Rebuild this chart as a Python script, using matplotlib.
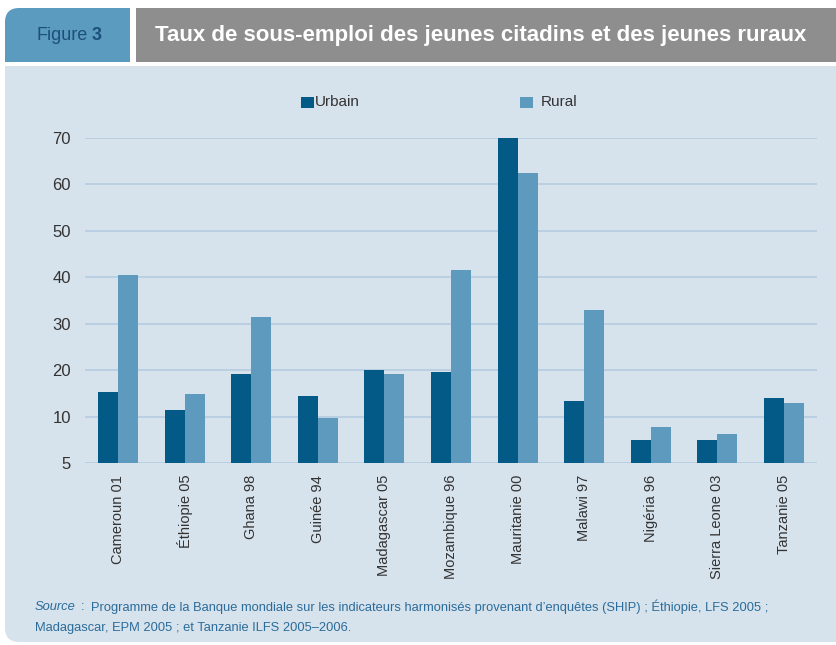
import numpy as np
import matplotlib
matplotlib.use("Agg")
import matplotlib.pyplot as plt
from matplotlib.patches import Rectangle, FancyBboxPatch

# data
pays = ["Cameroun 01", "Éthiopie 05", "Ghana 98", "Guinée 94", "Madagascar 05",
        "Mozambique 96", "Mauritanie 00", "Malawi 97", "Nigéria 96",
        "Sierra Leone 03", "Tanzanie 05"]
urbain = [15.3, 11.4, 19.1, 14.4, 20.0, 19.6, 70.0, 13.3, 4.9, 4.9, 14.0]
rural = [40.5, 14.8, 31.4, 9.6, 19.1, 41.5, 62.5, 32.9, 7.7, 6.2, 12.9]
yticks = [0, 10, 20, 30, 40, 50, 60, 70]
ytick_labels = ["5", "10", "20", "30", "40", "50", "60", "70"]

plt.rcParams["font.family"] = ["Liberation Sans", "DejaVu Sans"]

c_urb = "#035a87"
c_rur = "#5e9abd"
c_bg = "#d6e2ec"
c_grid = "#b7cee2"
c_txt = "#333333"

W, H = 836, 645
fig = plt.figure(figsize=(W / 100, H / 100), dpi=100)
fig.patch.set_facecolor("white")

def fx(px):
    return px / W

def fy(py):
    return 1 - py / H

def rect(x0, y0, x1, y1, color, rounded=False):
    # pixel coords from top-left
    if rounded:
        p = FancyBboxPatch((fx(x0), fy(y1)), fx(x1 - x0), (y1 - y0) / H,
                           boxstyle="round,pad=0,rounding_size=0.017",
                           transform=fig.transFigure, fc=color, ec="none",
                           mutation_aspect=W / H, zorder=0)
    else:
        p = Rectangle((fx(x0), fy(y1)), fx(x1 - x0), (y1 - y0) / H,
                      transform=fig.transFigure, fc=color, ec="none", zorder=0)
    fig.patches.append(p)

# header, "Figure 3" box rounded at top-left only
rect(5, 8, 130, 62, "#5b9bc0", rounded=True)
rect(5, 32, 130, 62, "#5b9bc0")
rect(60, 8, 130, 62, "#5b9bc0")
rect(136, 8, 836, 62, "#8e8e8e")
fig.text(fx(36), fy(36), "Figure", color="#1d4f7c", fontsize=13, va="center", ha="left")
fig.text(fx(92), fy(36), "3", color="#1d4f7c", fontsize=13, fontweight="bold",
         va="center", ha="left")
fig.text(fx(155), fy(36), "Taux de sous-emploi des jeunes citadins et des jeunes ruraux",
         color="white", fontsize=16, fontweight="bold", va="center", ha="left")

# panel, rounded at bottom-left only
rect(5, 66, 836, 642, c_bg, rounded=True)
rect(5, 66, 836, 400, c_bg)
rect(60, 66, 836, 642, c_bg)

ax = fig.add_axes([fx(85), fy(463), fx(817 - 85), (463 - 138) / H])
ax.set_zorder(2)
ax.set_facecolor("none")
x = np.arange(len(pays))
w = 0.3
ax.bar(x - w / 2, urbain, w, color=c_urb, zorder=3, label="Urbain")
ax.bar(x + w / 2, rural, w, color=c_rur, zorder=3, label="Rural")
ax.set_xlim(-0.5, len(pays) - 0.5)
ax.set_ylim(0, 70)
ax.set_yticks(yticks)
ax.set_yticklabels(ytick_labels)
ax.set_xticks(x)
ax.set_xticklabels(pays, rotation=90)
ax.tick_params(axis="both", length=0, colors=c_txt)
ax.tick_params(axis="y", pad=10, labelsize=12)
ax.tick_params(axis="x", pad=8.5, labelsize=10.5)
ax.grid(axis="y", color=c_grid, linewidth=1.3, zorder=0)
ax.set_axisbelow(True)
for s in ax.spines.values():
    s.set_visible(False)

# legend
rect(301, 97, 314, 108, c_urb)
fig.text(fx(315), fy(102), "Urbain", color=c_txt, fontsize=11, va="center", ha="left")
rect(520, 97, 533, 108, c_rur)
fig.text(fx(541), fy(102), "Rural", color=c_txt, fontsize=11, va="center", ha="left")

# source
c_src = "#2b6c9a"
fig.text(fx(35), fy(607), "Source", color=c_src, fontsize=9.3, style="italic",
         va="center", ha="left")
fig.text(fx(81), fy(607), ":", color=c_src, fontsize=9.3, va="center", ha="left")
fig.text(fx(91), fy(607),
         "Programme de la Banque mondiale sur les indicateurs harmonisés provenant d’enquêtes (SHIP) ; Éthiopie, LFS 2005 ;",
         color=c_src, fontsize=9.3, va="center", ha="left")
fig.text(fx(35), fy(628), "Madagascar, EPM 2005 ; et Tanzanie ILFS 2005–2006.",
         color=c_src, fontsize=9.3, va="center", ha="left")

fig.savefig("out.png", dpi=100, facecolor=fig.get_facecolor())
